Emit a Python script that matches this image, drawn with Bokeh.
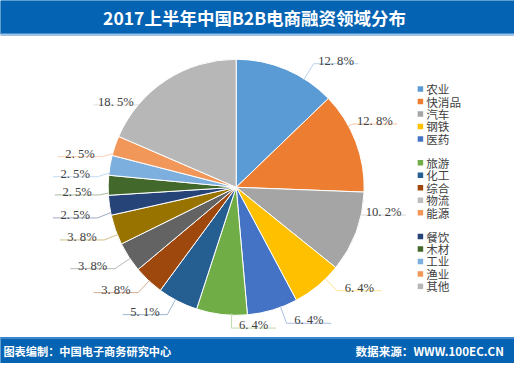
import math
from bokeh.plotting import figure
from bokeh.models import ColumnDataSource, Range1d
from bokeh.core.properties import value
from bokeh.embed import file_html
from bokeh.resources import INLINE

# ---------------- data ----------------
title_text = "2017上半年中国B2B电商融资领域分布"
footer_left = "图表编制：中国电子商务研究中心"
footer_right = "数据来源：WWW.100EC.CN"

categories = ["农业", "快消品", "汽车", "钢铁", "医药",
              "旅游", "化工", "综合", "物流", "能源",
              "餐饮", "木材", "工业", "渔业", "其他"]
shares = [12.8, 12.8, 10.2, 6.4, 6.4,
          6.4, 5.1, 3.8, 3.8, 3.8,
          2.5, 2.5, 2.5, 2.5, 18.5]

# ---------------- styles / layout ----------------
slice_colors = ["#5B9BD5", "#ED7D31", "#A5A5A5", "#FFC000", "#4472C4",
                "#70AD47", "#255E91", "#9E480E", "#636363", "#997300",
                "#264478", "#43682B", "#7CAFDD", "#F1975A", "#B7B7B7"]
legend_colors = ["#5B9BD5", "#ED7D31", "#A5A5A5", "#FFC000", "#4472C4",
                 "#70AD47", "#255E91", "#9E480E", "#BDBDBD", "#F1975A",
                 "#264478", "#43682B", "#7CAFDD", "#F1975A", "#B7B7B7"]
# elbow (pie-side end of each label's underline), in reference pixels
label_elbow_x = [323, 363, 372, 347, 295, 238, 172, 142, 118, 107, 100, 102, 100, 105, 142]
label_elbow_y = [66, 129, 224, 303, 337, 342, 328, 305, 280, 250, 227, 203, 184, 163, 109]
label_side = [1, 1, 1, 1, 1, 1, -1, -1, -1, -1, -1, -1, -1, -1, -1]

W_REF, H_REF = 530, 379
PW, PH = 514, 363
FS = PW / W_REF
CX, CY, RAD = 243, 195, 132
UNDER = 46
BLUE = "#0563B3"
TXT = "#404040"


def Y(y):
    return H_REF - y


def tint(hexc, f=0.55):
    r, g, b = int(hexc[1:3], 16), int(hexc[3:5], 16), int(hexc[5:7], 16)
    r, g, b = [int(c + (255 - c) * f) for c in (r, g, b)]
    return "#%02x%02x%02x" % (r, g, b)


p = figure(width=PW, height=PH, output_backend="svg", toolbar_location=None,
           x_range=Range1d(0, W_REF), y_range=Range1d(0, H_REF),
           min_border=0, outline_line_color=None,
           background_fill_color="white", border_fill_color="white")
p.axis.visible = False
p.grid.visible = False

# header / footer bars
p.quad(left=[0], right=[W_REF], bottom=[Y(35)], top=[Y(0)], color=BLUE)
p.quad(left=[0], right=[W_REF], bottom=[Y(36.5)], top=[Y(35)], color="#9DC3E6")
p.quad(left=[0], right=[W_REF], bottom=[Y(379)], top=[Y(352)], color=BLUE)
p.quad(left=[0], right=[W_REF], bottom=[Y(353)], top=[Y(352)], color="#3F88CC")

p.text(x=[262], y=[Y(17.5)], text=[title_text], text_color="white",
       text_font=value("Noto Sans CJK SC"), text_font_style="bold",
       text_font_size=f"{18 * FS:.1f}px", text_align="center", text_baseline="middle")
p.text(x=[3], y=[Y(366)], text=[footer_left], text_color="white",
       text_font=value("Noto Sans CJK SC"), text_font_style="bold",
       text_font_size=f"{11.5 * FS:.1f}px", text_align="left", text_baseline="middle")
p.text(x=[519], y=[Y(366)], text=[footer_right], text_color="white",
       text_font=value("Noto Sans CJK SC"), text_font_style="bold",
       text_font_size=f"{12 * FS:.1f}px", text_align="right", text_baseline="middle")

# pie wedges (clockwise from 12 o'clock)
total = sum(shares)
cum = [0.0]
for v in shares:
    cum.append(cum[-1] + v)
starts = [math.pi / 2 - 2 * math.pi * c / total for c in cum[:-1]]
ends = [math.pi / 2 - 2 * math.pi * c / total for c in cum[1:]]
src = ColumnDataSource(dict(x=[CX] * len(shares), y=[Y(CY)] * len(shares),
                            start=starts, end=ends, color=slice_colors))
p.wedge(x="x", y="y", radius=RAD, start_angle="start", end_angle="end",
        direction="clock", fill_color="color", line_color="white",
        line_width=1, source=src)

# labels with leader lines
lead_xs, lead_ys, lead_col = [], [], []
lab_x, lab_y, lab_t = [], [], []
for i, v in enumerate(shares):
    ex, ey = label_elbow_x[i], label_elbow_y[i]
    th = math.degrees(math.atan2(ex - CX, -(ey - CY))) % 360
    t0 = 360 * cum[i] / total + 1
    t1 = 360 * cum[i + 1] / total - 1
    th = min(max(th, t0), t1)
    ax = CX + RAD * math.sin(math.radians(th))
    ay = CY - RAD * math.cos(math.radians(th))
    fx = ex + label_side[i] * UNDER
    lead_xs.append([ax, ex, fx])
    lead_ys.append([Y(ay), Y(ey), Y(ey)])
    lead_col.append(tint(slice_colors[i]))
    lab_x.append((ex + fx) / 2)
    lab_y.append(Y(ey - 3))
    lab_t.append(f"{v:.1f}".replace(".", ". ") + "%")

p.multi_line(xs=lead_xs, ys=lead_ys, line_color=lead_col, line_width=1)
p.text(x=lab_x, y=lab_y, text=lab_t, text_color=TXT,
       text_font=value("Liberation Serif"), text_font_size=f"{13 * FS:.1f}px",
       text_align="center", text_baseline="alphabetic")

# legend (three groups of five)
leg_y = [Y(92.5 + (i // 5) * 77 + (i % 5) * 13) for i in range(len(categories))]
p.scatter(x=[433] * len(categories), y=leg_y, marker="square", size=5.5,
          fill_color=legend_colors, line_color=None)
p.text(x=[439] * len(categories), y=leg_y, text=categories, text_color=TXT,
       text_font=value("Noto Sans CJK SC"), text_font_size=f"{12 * FS:.1f}px",
       text_align="left", text_baseline="middle")

open("out.html", "w").write(file_html(p, INLINE))
